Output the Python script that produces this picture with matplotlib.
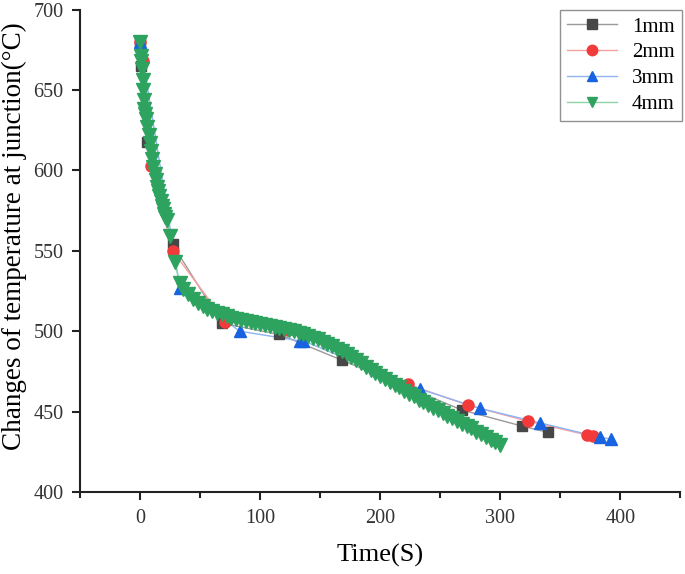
#!/usr/bin/env python3
import matplotlib
matplotlib.use('Agg')
import matplotlib.pyplot as plt
from matplotlib.lines import Line2D
from matplotlib.ticker import MultipleLocator

# data
t_1mm = [0, 1, 6, 27, 68, 116, 168, 268, 318, 340]
y_1mm = [680, 665, 618, 554, 505, 498, 482, 451, 441, 437]

t_2mm = [0, 2, 9, 27, 71, 123, 223, 273, 323, 372, 377]
y_2mm = [680, 668, 603, 550, 506, 501, 467, 454, 444, 435.5, 435]

t_3mm = [0, 33, 83, 133, 136, 233, 283, 333, 383, 392]
y_3mm = [680, 527, 500, 494, 494, 464, 452, 443, 434, 433]

t_4mm = [0, 0.5, 1, 1.5, 2, 2.5, 3, 3.5, 4, 5, 6, 7, 8, 9, 10, 11, 12, 13,
         14, 15, 16, 17, 18, 19, 20, 21, 22, 25, 29, 33,
         36, 40, 44, 48, 52, 56, 60, 64, 68, 72, 76, 80, 84, 88, 92, 96,
         100, 104, 108, 112, 116, 120, 124, 128, 132, 136, 140, 144, 148,
         152, 156, 160, 164, 168, 172, 176, 180, 184, 188, 192, 196, 200,
         204, 208, 212, 216, 220, 224, 228, 232, 236, 240, 244, 248, 252,
         256, 260, 264, 268, 272, 276, 280, 284, 288, 292, 296, 300]
y_4mm = [680, 671, 668, 663, 656, 650, 644, 638, 635, 632, 627, 622, 617,
         612, 607, 602, 598, 594, 590, 587, 584, 581, 578, 576, 573, 571,
         569, 559, 543, 530,
         526, 523, 520, 517.5, 515.5, 514, 512.5, 511.5, 510.5, 509.5, 508.5,
         507.5, 507, 506.5, 506, 505, 504.5, 504, 503, 502.5, 502, 501.5, 501,
         500, 499, 498, 497, 496, 495, 493.5, 492, 490.5, 489, 487.5, 486,
         484, 482, 480, 478, 476, 474, 472, 470, 468.5, 466.5, 465, 463, 461,
         459.5, 457.5, 456, 454, 452.5, 451, 449, 447.5, 446, 444, 442.5, 441,
         439.5, 437.5, 436, 434, 432.5, 431, 429.5]

series = [
    ('1mm', t_1mm, y_1mm, 's', '#474747', '#9a9a9a', 7.5),
    ('2mm', t_2mm, y_2mm, 'o', '#f23a3a', '#f7a0a0', 8),
    ('3mm', t_3mm, y_3mm, '^', '#1763e0', '#8fb4f0', 8.5),
    ('4mm', t_4mm, y_4mm, 'v', '#2ea35f', '#8fd3a8', 10),
]

plt.rcParams['font.family'] = ['Liberation Serif', 'DejaVu Serif']

fig = plt.figure(figsize=(6.85, 5.74), dpi=100)
ax = fig.add_axes([0.117, 0.143, 0.876, 0.84])

for name, t, y, mk, mc, lc, ms in series:
    ax.plot(t, y, color=lc, lw=1.0, zorder=1)
    ax.plot(t, y, ls='none', marker=mk, color=mc, ms=ms, mec=mc, zorder=2)

# legend handles with line + marker
handles = [Line2D([], [], color=lc, lw=1.0, marker=mk, mfc=mc, mec=mc,
                  ms=7.5)
           for name, t, y, mk, mc, lc, ms in series]
leg = ax.legend(handles, [s[0] for s in series], loc='upper right',
                bbox_to_anchor=(1.003, 1.0), borderaxespad=0, fontsize=15,
                frameon=True, fancybox=False, edgecolor='#777777',
                handlelength=2.4, borderpad=0.35, labelspacing=0.3,
                handletextpad=0.7)
leg.get_frame().set_linewidth(1.0)

ax.set_xlim(-50, 450)
ax.set_ylim(400, 700)
ax.xaxis.set_major_locator(MultipleLocator(100))
ax.xaxis.set_minor_locator(MultipleLocator(50))
ax.yaxis.set_major_locator(MultipleLocator(50))

for s in ['top', 'right']:
    ax.spines[s].set_visible(False)
for s in ['left', 'bottom']:
    ax.spines[s].set_linewidth(1.5)
    ax.spines[s].set_color('#222222')

ax.tick_params(which='major', direction='out', length=6, width=1.5,
               labelsize=14.5, colors='#222222', labelcolor='#333333',
               pad=6)
ax.tick_params(which='minor', direction='out', length=4, width=1.5,
               colors='#222222')

ax.set_xlabel('Time(S)', fontsize=19, labelpad=12)
ax.set_ylabel('Changes of temperature at junction(°C)', fontsize=19.5)
ax.yaxis.set_label_coords(-0.088, 0.53)

fig.savefig('out.png', dpi=100)
